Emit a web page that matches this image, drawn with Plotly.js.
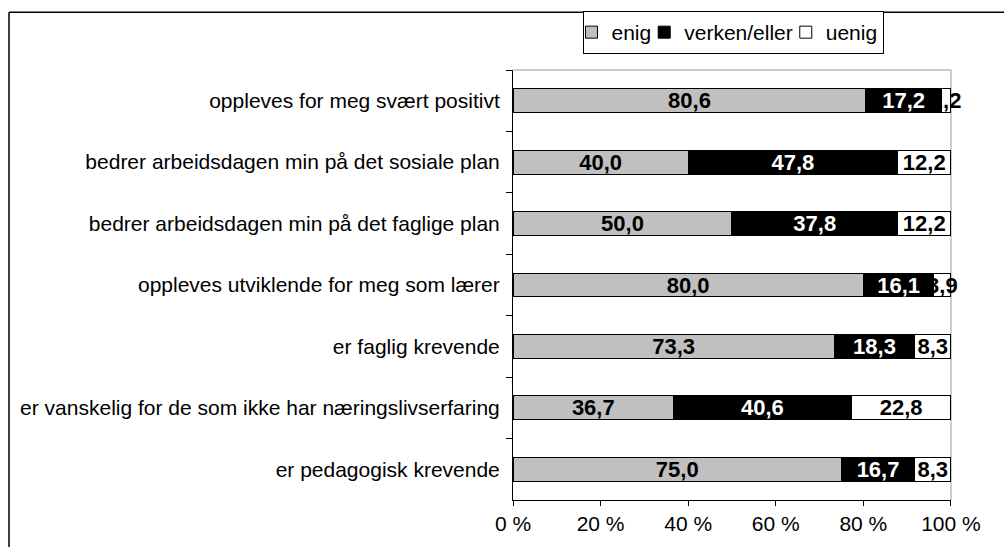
<!DOCTYPE html>
<html>
<head>
<meta charset="utf-8">
<script src="https://cdn.plot.ly/plotly-3.0.1.min.js"></script>
<style>html,body{margin:0;padding:0;background:#fff;}#chart{width:1004px;height:547px;}</style>
</head>
<body>
<div id="chart"></div>
<script>
const categories = [
  "oppleves for meg svært positivt",
  "bedrer arbeidsdagen min på det sosiale plan",
  "bedrer arbeidsdagen min på det faglige plan",
  "oppleves utviklende for meg som lærer",
  "er faglig krevende",
  "er vanskelig for de som ikke har næringslivserfaring",
  "er pedagogisk krevende"
];
const enig = [80.6, 40.0, 50.0, 80.0, 73.3, 36.7, 75.0];
const verkenEller = [17.2, 47.8, 37.8, 16.1, 18.3, 40.6, 16.7];
const uenig = [2.2, 12.2, 12.2, 3.9, 8.3, 22.8, 8.3];
const seriesNames = ["enig", "verken/eller", "uenig"];
const tickVals = [0, 20, 40, 60, 80, 100];

const font = "Liberation Sans, Arial, sans-serif";
function mk(name, vals, fill, txtColor) {
  return {
    type: "bar", orientation: "h", name: name,
    y: categories, x: vals,
    text: vals.map(v => v.toFixed(1).replace(".", ",")),
    textposition: "inside", insidetextanchor: "middle",
    constraintext: "none", textangle: 0, cliponaxis: false,
    textfont: {family: font, size: 22, color: txtColor, weight: "bold"},
    marker: {color: fill, line: {color: "#000", width: 1}},
    hoverinfo: "skip"
  };
}
const data = [
  mk(seriesNames[0], enig, "#c0c0c0", "#000"),
  mk(seriesNames[1], verkenEller, "#000000", "#fff"),
  mk(seriesNames[2], uenig, "#ffffff", "#000")
];
const L = 513, R = 951, T = 69, B = 500, W = R - L, H = B - T;
const layout = {
  width: 1004, height: 547,
  margin: {l: L, r: 1004 - R, t: T, b: 547 - B, pad: 0},
  barmode: "stack", barnorm: "percent", bargap: 0.61,
  paper_bgcolor: "#fff", plot_bgcolor: "#fff",
  font: {family: font, size: 21, color: "#000"},
  showlegend: true,
  legend: {
    orientation: "h", x: (733 - L) / W, xanchor: "center", y: (B - 11) / H, yanchor: "top",
    bordercolor: "#000", borderwidth: 1, font: {family: font, size: 21, color: "#000"},
    traceorder: "normal", itemwidth: 30, indentation: -12
  },
  xaxis: {
    range: [0, 100.01], tickvals: tickVals, ticktext: tickVals.map(v => v + " %"),
    showgrid: false, zeroline: false, showline: true, linecolor: "#000", linewidth: 1,
    ticks: "outside", ticklen: 5, tickcolor: "#000",
    tickfont: {family: font, size: 21, color: "#000"}, fixedrange: true
  },
  yaxis: {
    type: "category", categoryorder: "array", categoryarray: categories,
    autorange: "reversed", tickson: "boundaries",
    showgrid: false, zeroline: false, showline: true, linecolor: "#000", linewidth: 1,
    ticks: "outside", ticklen: 6, tickcolor: "#000", ticklabelstandoff: 8,
    tickfont: {family: font, size: 21, color: "#000"}, fixedrange: true
  },
  shapes: [
    {type: "line", xref: "paper", yref: "paper", x0: 0, x1: 1, y0: 1, y1: 1, line: {color: "#999", width: 1}, layer: "below"},
    {type: "line", xref: "paper", yref: "paper", x0: 1, x1: 1, y0: 0, y1: 1, line: {color: "#999", width: 1}, layer: "below"},
    {type: "line", xref: "paper", yref: "paper", x0: (9 - L) / W, x1: (1010 - L) / W, y0: (B - 11) / H, y1: (B - 11) / H, line: {color: "#000", width: 1.5}},
    {type: "line", xref: "paper", yref: "paper", x0: (9 - L) / W, x1: (9 - L) / W, y0: (B - 11) / H, y1: (B - 560) / H, line: {color: "#000", width: 1.5}}
  ]
};
Plotly.newPlot("chart", data, layout, {displayModeBar: false, staticPlot: true});
</script>
</body>
</html>
